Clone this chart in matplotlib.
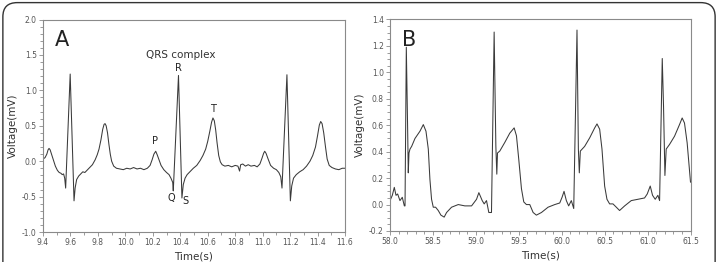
import numpy as np
import matplotlib
matplotlib.use("Agg")
import matplotlib.pyplot as plt
from matplotlib.patches import FancyBboxPatch
from matplotlib.ticker import MultipleLocator, FormatStrFormatter

# panel A: normal ECG, time (s) and voltage (mV)
a_time = [9.400, 9.415, 9.428, 9.437, 9.444, 9.452, 9.462, 9.475, 9.490, 9.505,
          9.518, 9.530, 9.540, 9.550, 9.558, 9.565, 9.598, 9.626, 9.634, 9.645,
          9.660, 9.675, 9.690, 9.705, 9.720, 9.740, 9.760, 9.780, 9.795, 9.808,
          9.822, 9.835, 9.845, 9.852, 9.860, 9.870, 9.880, 9.890, 9.900, 9.915,
          9.935, 9.960, 9.985, 10.010, 10.035, 10.060, 10.085, 10.110, 10.135, 10.160,
          10.180, 10.195, 10.208, 10.221, 10.232, 10.245, 10.260, 10.280, 10.300, 10.318,
          10.332, 10.345, 10.349, 10.387, 10.412, 10.422, 10.435, 10.450, 10.470, 10.495,
          10.520, 10.545, 10.565, 10.585, 10.600, 10.615, 10.628, 10.638, 10.648, 10.658,
          10.668, 10.680, 10.692, 10.705, 10.725, 10.750, 10.775, 10.800, 10.820, 10.832,
          10.840, 10.855, 10.875, 10.895, 10.915, 10.940, 10.960, 10.980, 10.995, 11.007,
          11.015, 11.025, 11.040, 11.058, 11.080, 11.100, 11.118, 11.132, 11.141, 11.177,
          11.202, 11.212, 11.225, 11.245, 11.270, 11.295, 11.320, 11.345, 11.365, 11.385,
          11.400, 11.413, 11.423, 11.433, 11.445, 11.458, 11.470, 11.485, 11.505, 11.530,
          11.555, 11.580, 11.600]
a_volt = [0.03, 0.05, 0.10, 0.16, 0.18, 0.16, 0.10, 0.02, -0.07, -0.13,
          -0.16, -0.17, -0.19, -0.18, -0.24, -0.38, 1.23, -0.56, -0.38, -0.26,
          -0.21, -0.18, -0.15, -0.16, -0.13, -0.09, -0.05, 0.02, 0.09, 0.17,
          0.30, 0.45, 0.52, 0.53, 0.50, 0.40, 0.24, 0.10, 0.00, -0.07,
          -0.10, -0.11, -0.12, -0.10, -0.11, -0.09, -0.11, -0.10, -0.12, -0.10,
          -0.06, 0.02, 0.10, 0.14, 0.09, 0.02, -0.06, -0.12, -0.16, -0.19,
          -0.24, -0.30, -0.42, 1.21, -0.52, -0.33, -0.24, -0.19, -0.15, -0.10,
          -0.06, 0.01, 0.08, 0.17, 0.28, 0.42, 0.55, 0.61, 0.57, 0.44,
          0.26, 0.08, -0.01, -0.05, -0.07, -0.06, -0.08, -0.06, -0.07, -0.14,
          -0.05, -0.04, -0.07, -0.05, -0.07, -0.06, -0.08, -0.04, 0.04, 0.11,
          0.14, 0.11, 0.03, -0.06, -0.10, -0.12, -0.16, -0.22, -0.38, 1.22,
          -0.56, -0.35, -0.24, -0.19, -0.15, -0.12, -0.07, 0.00, 0.08, 0.20,
          0.36, 0.51, 0.56, 0.53, 0.40, 0.20, 0.03, -0.06, -0.09, -0.11,
          -0.12, -0.10, -0.10]

# panel B: ECG with elevated ST segment
b_time = [58.000, 58.027, 58.050, 58.070, 58.089, 58.116, 58.143, 58.167, 58.175, 58.190,
          58.205, 58.213, 58.221, 58.233, 58.252, 58.291, 58.349, 58.388, 58.419, 58.446,
          58.465, 58.484, 58.504, 58.531, 58.562, 58.593, 58.631, 58.659, 58.717, 58.795,
          58.872, 58.950, 59.008, 59.035, 59.074, 59.097, 59.124, 59.151, 59.182, 59.213,
          59.233, 59.244, 59.252, 59.279, 59.337, 59.395, 59.446, 59.473, 59.500, 59.531,
          59.558, 59.589, 59.628, 59.667, 59.705, 59.764, 59.841, 59.919, 59.977, 60.004,
          60.027, 60.054, 60.081, 60.112, 60.140, 60.178, 60.194, 60.205, 60.217, 60.267,
          60.326, 60.384, 60.411, 60.442, 60.469, 60.500, 60.527, 60.558, 60.597, 60.636,
          60.674, 60.733, 60.810, 60.888, 60.965, 60.996, 61.031, 61.058, 61.089, 61.120,
          61.140, 61.171, 61.186, 61.202, 61.217, 61.256, 61.314, 61.372, 61.403, 61.430,
          61.461, 61.500]
b_volt = [0.03, 0.07, 0.13, 0.07, 0.08, 0.03, 0.055, -0.01, -0.01, 1.19,
          0.59, 0.24, 0.39, 0.42, 0.44, 0.50, 0.555, 0.605, 0.555, 0.42,
          0.19, 0.04, -0.02, -0.02, -0.045, -0.08, -0.095, -0.06, -0.02, 0.0,
          -0.01, -0.01, 0.04, 0.09, 0.03, 0.005, 0.03, -0.06, -0.06, 1.305,
          0.44, 0.23, 0.39, 0.405, 0.47, 0.54, 0.58, 0.52, 0.34, 0.12,
          0.02, 0.0, 0.0, -0.06, -0.08, -0.06, -0.02, 0.0, 0.012, 0.055,
          0.10, 0.03, -0.01, 0.03, -0.03, 1.32, 0.42, 0.24, 0.405, 0.44,
          0.505, 0.58, 0.61, 0.57, 0.42, 0.14, 0.04, 0.005, 0.005, -0.02,
          -0.045, -0.01, 0.03, 0.04, 0.05, 0.08, 0.14, 0.07, 0.04, 0.07,
          0.03, 1.105, 0.74, 0.22, 0.42, 0.455, 0.517, 0.605, 0.655, 0.617,
          0.467, 0.17]

# labels on the waves in panel A
wave_names = ["P", "Q", "R", "S", "T"]
wave_pos = [(10.215, 0.29), (10.335, -0.52), (10.385, 1.32), (10.435, -0.56), (10.635, 0.73)]

plt.rcParams['font.family'] = ['DejaVu Sans']
tick_color = "#555555"
spine_color = "#8a8a8a"
line_color = "#3a3a3a"

fig = plt.figure(figsize=(7.18, 2.62), dpi=100)
axA = fig.add_axes([43/718, 1-232/262, 302/718, 212.5/262])
axB = fig.add_axes([390/718, 1-231/262, 300.5/718, 211.5/262])

axA.plot(a_time, a_volt, color=line_color, lw=0.75)
axB.plot(b_time, b_volt, color=line_color, lw=0.75)

axA.set_xlim(9.4, 11.6)
axA.set_ylim(-1.0, 2.0)
axA.xaxis.set_major_locator(MultipleLocator(0.2))
axA.xaxis.set_minor_locator(MultipleLocator(0.1))
axA.yaxis.set_major_locator(MultipleLocator(0.5))
axA.yaxis.set_minor_locator(MultipleLocator(0.1))

axB.set_xlim(58.0, 61.5)
axB.set_ylim(-0.2, 1.4)
axB.xaxis.set_major_locator(MultipleLocator(0.5))
axB.xaxis.set_minor_locator(MultipleLocator(0.1))
axB.yaxis.set_major_locator(MultipleLocator(0.2))
axB.yaxis.set_minor_locator(MultipleLocator(0.05))

for ax, letter in [(axA, "A"), (axB, "B")]:
    for s in ax.spines.values():
        s.set_color(spine_color)
        s.set_linewidth(0.8)
    ax.tick_params(which="both", direction="out", color=spine_color, labelsize=5.5,
                   labelcolor=tick_color, width=0.6, pad=1.5)
    ax.tick_params(which="major", length=3)
    ax.tick_params(which="minor", length=2)
    ax.xaxis.set_major_formatter(FormatStrFormatter("%.1f"))
    ax.yaxis.set_major_formatter(FormatStrFormatter("%.1f"))
    ax.set_xlabel("Time(s)", fontsize=7.5, color="#333333", labelpad=3)
    ax.set_ylabel("Voltage(mV)", fontsize=7.5, color="#333333", labelpad=3)
    ax.text(0.04, 0.95, letter, transform=ax.transAxes, fontsize=15, color="#222222",
            va="top", ha="left")

axA.text(0.455, 0.835, "QRS complex", transform=axA.transAxes, fontsize=7.5,
         color="#333333", ha="center", va="center")
for name, (tx, ty) in zip(wave_names, wave_pos):
    axA.text(tx, ty, name, fontsize=7, color="#222222", ha="center", va="center")

# rounded frame around the figure
frame = FancyBboxPatch((0.004, -0.2), 0.992, 1.19, boxstyle="round,pad=0,rounding_size=0.02",
                       transform=fig.transFigure, fill=False, edgecolor="#333333",
                       linewidth=1.0, mutation_aspect=2.7)
fig.patches.append(frame)

fig.savefig("out.png", dpi=100)
